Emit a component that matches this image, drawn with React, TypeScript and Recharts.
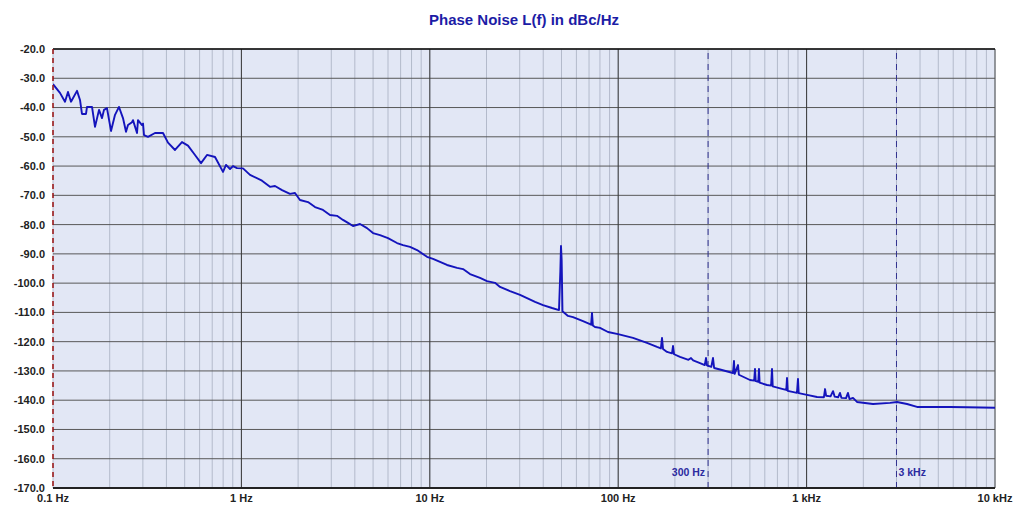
import {
  LineChart,
  Line,
  XAxis,
  YAxis,
  CartesianGrid,
  ReferenceLine,
} from "recharts";

// offset frequency in Hz and L(f) in dBc/Hz
const FREQ_HZ = [
  0.1, 0.1089, 0.1158, 0.1201, 0.1246, 0.1341, 0.1391, 0.1425, 0.1497, 0.1515,
  0.1611, 0.1671, 0.1755, 0.182, 0.1865, 0.1934, 0.2032, 0.2134, 0.224, 0.2352,
  0.2441, 0.2501, 0.2626, 0.2658, 0.2792, 0.2826, 0.2968, 0.3005, 0.3041, 0.3193,
  0.3478, 0.3836, 0.4077, 0.4442, 0.4838, 0.5206, 0.5672, 0.6105, 0.6568, 0.7244,
  0.7987, 0.8287, 0.8702, 0.9026, 0.9476, 1.02, 1.111, 1.286, 1.418, 1.508,
  1.643, 1.811, 1.925, 2.046, 2.257, 2.459, 2.711, 2.953, 3.217, 3.461,
  3.68, 3.912, 4.261, 4.642, 4.995, 5.442, 5.999, 6.698, 7.207, 7.851,
  8.554, 9.663, 10.4, 12.34, 13.95, 15.01, 16.35, 18.47, 20.12, 22.19,
  23.59, 26.66, 30.12, 32.81, 36.18, 39.89, 44.54, 48.5, 49.3, 49.7,
  50.1, 50.6, 54.14, 57.55, 65.05, 70.87, 71.8, 72.6, 73.4, 75.3,
  80.08, 88.3, 99.8, 119.8, 142.2, 160.7, 168.5, 170.8, 173, 181.6,
  193, 195.4, 198, 212.8, 236, 243.5, 250, 271.8, 288, 292.4,
  296, 312, 318.6, 323, 347, 406.7, 411.7, 415, 432.5, 437,
  500.6, 527, 532.2, 537, 554, 558.8, 563, 616.5, 648, 655.2,
  661, 749.4, 780, 787, 794, 889, 900, 908, 1005, 1136,
  1235, 1253, 1270, 1340, 1381, 1410, 1470, 1504, 1530, 1620,
  1658, 1690, 1763, 1851, 2251, 2772, 3019, 3412, 3855, 4688,
  5769, 7103, 10000,
];

const LEVEL_DBC = [
  -32, -35, -38, -34.7, -38, -34.3, -37.4, -42.2, -42.2, -39.8,
  -39.8, -46.6, -40.8, -43.6, -40.8, -40.2, -48, -42.5, -39.8, -43.6,
  -48.3, -46, -45, -44.3, -48.7, -44.3, -46, -45.5, -49.4, -50,
  -48.7, -48.7, -52, -54.5, -51.8, -53, -56.2, -59, -56.2, -56.9,
  -62, -59.6, -61, -60, -60.7, -60.8, -63, -65, -67.1, -66.8,
  -68.2, -69.5, -69.2, -71.6, -72.3, -74, -75, -76.7, -77, -78.4,
  -79.4, -80.5, -79.8, -81.2, -82.9, -83.6, -84.6, -86.3, -87, -87.6,
  -88.7, -91, -91.7, -93.8, -94.8, -95.2, -96.9, -98.2, -99.3, -99.9,
  -101.3, -102.7, -104, -105.1, -106.4, -107.5, -108.5, -109.2, -96, -87.3,
  -92, -109.6, -111.2, -111.6, -113, -114, -114.2, -110.2, -114.5, -115,
  -115.3, -116.7, -117.4, -118.7, -120.4, -121.8, -122.3, -118.7, -122.5, -123.5,
  -124, -121.5, -124.3, -125.2, -126.2, -125.6, -126.4, -127.3, -128, -125.6,
  -128.1, -128.6, -125.6, -129, -129.5, -130.7, -126.6, -131, -128, -131.3,
  -133.1, -133.3, -129.3, -133.5, -133.7, -129.3, -134, -134.8, -135, -129.3,
  -135.3, -136.2, -136.5, -132.4, -136.8, -137.5, -132.7, -137.6, -138.2, -138.9,
  -139, -136.2, -138.5, -138.7, -136.9, -138.8, -139, -137.5, -139.2, -139.3,
  -137.5, -139.6, -139.2, -140.6, -141.3, -140.9, -140.6, -141.3, -142.3, -142.3,
  -142.3, -142.4, -142.6,
];

const DECADES = [0.1, 1, 10, 100, 1000, 10000];
const DECADE_LABELS = ["0.1 Hz", "1 Hz", "10 Hz", "100 Hz", "1 kHz", "10 kHz"];
const MINOR_STEPS = [2, 3, 4, 5, 6, 7, 8, 9];
const Y_TICKS = [-170, -160, -150, -140, -130, -120, -110, -100, -90, -80, -70, -60, -50, -40, -30, -20];
const MARKERS = [
  { f: 300, label: "300 Hz", side: "left" },
  { f: 3000, label: "3 kHz", side: "right" },
];

const FONT = "'Liberation Sans', Arial, sans-serif";

const data = FREQ_HZ.map((f, i) => ({ f, v: LEVEL_DBC[i] }));

const xTicks: number[] = [];
DECADES.forEach((d, i) => {
  xTicks.push(d);
  if (i < DECADES.length - 1) MINOR_STEPS.forEach((m) => xTicks.push(+(d * m).toPrecision(3)));
});

const labelFor = (v: number) => {
  const i = DECADES.findIndex((d) => Math.abs(d - v) < d * 1e-6);
  return i >= 0 ? DECADE_LABELS[i] : "";
};

function MarkerLabel({ viewBox, text, side }: any) {
  if (!viewBox) return null;
  const x = side === "left" ? viewBox.x - 3 : viewBox.x + 2;
  return (
    <text
      x={x}
      y={viewBox.y + viewBox.height - 12}
      textAnchor={side === "left" ? "end" : "start"}
      fontFamily={FONT}
      fontWeight="bold"
      fontSize={10.5}
      fill="#2b2ba0"
    >
      {text}
    </text>
  );
}

export default function App() {
  return (
    <div
      style={{
        position: "absolute",
        left: 0,
        top: 0,
        width: 1024,
        height: 516,
        background: "#fff",
      }}
    >
      <div
        style={{
          position: "absolute",
          left: 53,
          top: 11,
          width: 942,
          textAlign: "center",
          fontFamily: FONT,
          fontWeight: "bold",
          fontSize: 15,
          color: "#1c1ca6",
        }}
      >
        Phase Noise L(f) in dBc/Hz
      </div>
      <LineChart
        width={1024}
        height={516}
        data={data}
        margin={{ top: 49, right: 29, bottom: 0, left: 0 }}
      >
        <CartesianGrid fill="#e2e7f5" horizontal={false} stroke="#b3bacb" />
        <CartesianGrid vertical={false} stroke="#585858" />
        <XAxis
          dataKey="f"
          type="number"
          scale="log"
          domain={[0.1, 10000]}
          allowDataOverflow
          ticks={xTicks}
          interval={0}
          tickFormatter={labelFor}
          height={28}
          tickLine={false}
          tickMargin={0}
          axisLine={{ stroke: "#222", strokeWidth: 2 }}
          tick={{ fontSize: 11, fontWeight: "bold", fill: "#222", fontFamily: FONT }}
        />
        <YAxis
          type="number"
          domain={[-170, -20]}
          ticks={Y_TICKS}
          interval={0}
          width={53}
          tickFormatter={(v: number) => v.toFixed(1)}
          tickLine={false}
          axisLine={{ stroke: "#9a1010", strokeWidth: 1.5, strokeDasharray: "5 4" }}
          tick={{ fontSize: 11, fontWeight: "bold", fill: "#222", fontFamily: FONT }}
        />
        {DECADES.slice(1, -1).map((d) => (
          <ReferenceLine key={d} x={d} stroke="#3a3a3a" strokeWidth={1} />
        ))}
        <ReferenceLine x={10000} stroke="#555" strokeWidth={1} />
        <ReferenceLine y={-20} stroke="#111" strokeWidth={1.5} />
        {MARKERS.map((m) => (
          <ReferenceLine
            key={m.f}
            x={m.f}
            stroke="#33338f"
            strokeDasharray="6 5"
            strokeWidth={1}
            label={<MarkerLabel text={m.label} side={m.side} />}
          />
        ))}
        <Line
          dataKey="v"
          stroke="#1414bc"
          strokeWidth={1.9}
          strokeLinejoin="round"
          dot={false}
          isAnimationActive={false}
        />
      </LineChart>
    </div>
  );
}
